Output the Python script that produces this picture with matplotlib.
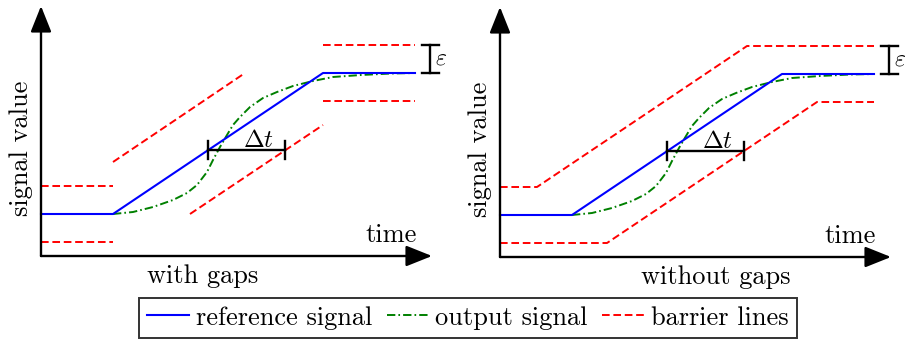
import matplotlib
matplotlib.use("Agg")
import matplotlib.pyplot as plt
from matplotlib.lines import Line2D

plt.rcParams['font.family'] = ['cmr10', 'DejaVu Serif']
plt.rcParams['mathtext.fontset'] = 'cm'
plt.rcParams['lines.scale_dashes'] = False

# reference signal (time, value)
t_ref = [0, 72, 282, 374]
v_ref = [42, 42, 183, 183]

# output signal
t_out = [72, 92, 112, 132, 146, 156, 166, 172, 179, 186, 192, 199, 209, 222,
         236, 252, 272, 292, 320, 350, 374]
v_out = [42, 44, 49, 56, 63, 71, 84, 96, 109, 121, 131, 139, 149, 158,
         164, 170, 175, 179, 181, 182.5, 183]

# barrier lines with gaps (separate pieces)
gap_upper = [([0, 72], [70, 70]), ([72, 204], [94, 183]), ([282, 374], [211, 211])]
gap_lower = [([0, 72], [14, 14]), ([149, 282], [42, 131]), ([282, 374], [155, 155])]

# barrier lines without gaps
t_upper = [0, 37, 247, 374]
v_upper = [70, 70, 211, 211]
t_lower = [0, 107, 317, 374]
v_lower = [14, 14, 155, 155]

# delta t and epsilon markers
dt_start, dt_end, dt_level = 167, 244, 106
eps_pos, eps_lo, eps_hi = 389, 183, 211

FS = 19
blue = '#0000ff'
green = '#008000'
red = '#ff0000'
dash_red = (0, (5.5, 2.7))
dash_green = (0, (6.0, 2.2, 1.2, 2.2))

fig = plt.figure(figsize=(9.05, 3.39), dpi=100)
W, H = 905, 339


def make_axes(x0, y0):
    ax = fig.add_axes([x0 / W, (H - y0) / H, 400 / W, 256 / H])
    ax.set_xlim(0, 400)
    ax.set_ylim(0, 256)
    ax.set_axis_off()
    return ax


def draw_common(ax, label, label_x):
    arrow = dict(arrowstyle='-|>,head_length=0.8,head_width=0.32', color='k',
                 lw=1.7, mutation_scale=20, shrinkA=0, shrinkB=0)
    ax.annotate('', xy=(391, 0), xytext=(0, 0), arrowprops=arrow, annotation_clip=False)
    ax.annotate('', xy=(0, 250), xytext=(0, 0), arrowprops=arrow, annotation_clip=False)

    ax.plot(t_out, v_out, color=green, lw=1.4, linestyle=dash_green, clip_on=False)
    ax.plot(t_ref, v_ref, color=blue, lw=1.5, clip_on=False)

    # delta t marker
    ax.plot([dt_start, dt_end], [dt_level, dt_level], color='k', lw=1.7)
    for x in (dt_start, dt_end):
        ax.plot([x, x], [dt_level - 9, dt_level + 9], color='k', lw=1.7)
    ax.text(217, dt_level + 3, r'$\Delta t$', fontsize=FS - 1, ha='center', va='baseline')

    # epsilon marker
    ax.plot([eps_pos, eps_pos], [eps_lo, eps_hi], color='k', lw=1.7, clip_on=False)
    for y in (eps_lo, eps_hi):
        ax.plot([eps_pos - 8.5, eps_pos + 8.5], [y, y], color='k', lw=1.7, clip_on=False)
    ax.text(eps_pos + 5, (eps_lo + eps_hi) / 2 + 1, r'$\varepsilon$', fontsize=FS - 2,
            ha='left', va='center', clip_on=False)

    ax.text(376, 14, 'time', fontsize=FS, ha='right', va='baseline')
    ax.text(-20, 108, 'signal value', fontsize=FS, rotation=90,
            ha='center', va='center')
    ax.text(label_x, -27, label, fontsize=FS, ha='center', va='baseline')


# left panel: with gaps
ax1 = make_axes(41, 256)
for t, v in gap_upper + gap_lower:
    ax1.plot(t, v, color=red, lw=1.4, linestyle=dash_red, clip_on=False)
draw_common(ax1, 'with gaps', 162)

# right panel: without gaps
ax2 = make_axes(500, 257)
ax2.plot(t_upper, v_upper, color=red, lw=1.4, linestyle=dash_red, clip_on=False)
ax2.plot(t_lower, v_lower, color=red, lw=1.4, linestyle=dash_red, clip_on=False)
draw_common(ax2, 'without gaps', 216)

handles = [
    Line2D([], [], color=blue, lw=1.5),
    Line2D([], [], color=green, lw=1.4, linestyle=dash_green),
    Line2D([], [], color=red, lw=1.4, linestyle=dash_red),
]
leg = fig.legend(handles, ['reference signal', 'output signal', 'barrier lines'],
                 loc='upper left', bbox_to_anchor=(139 / W, 1 - 298 / H), ncol=3,
                 fontsize=FS, frameon=True, fancybox=False, handlelength=1.6,
                 handletextpad=0.25, columnspacing=0.55, borderpad=0.3,
                 borderaxespad=0)
leg.get_frame().set_edgecolor('k')
leg.get_frame().set_linewidth(1.4)

fig.savefig('out.png', dpi=100)
